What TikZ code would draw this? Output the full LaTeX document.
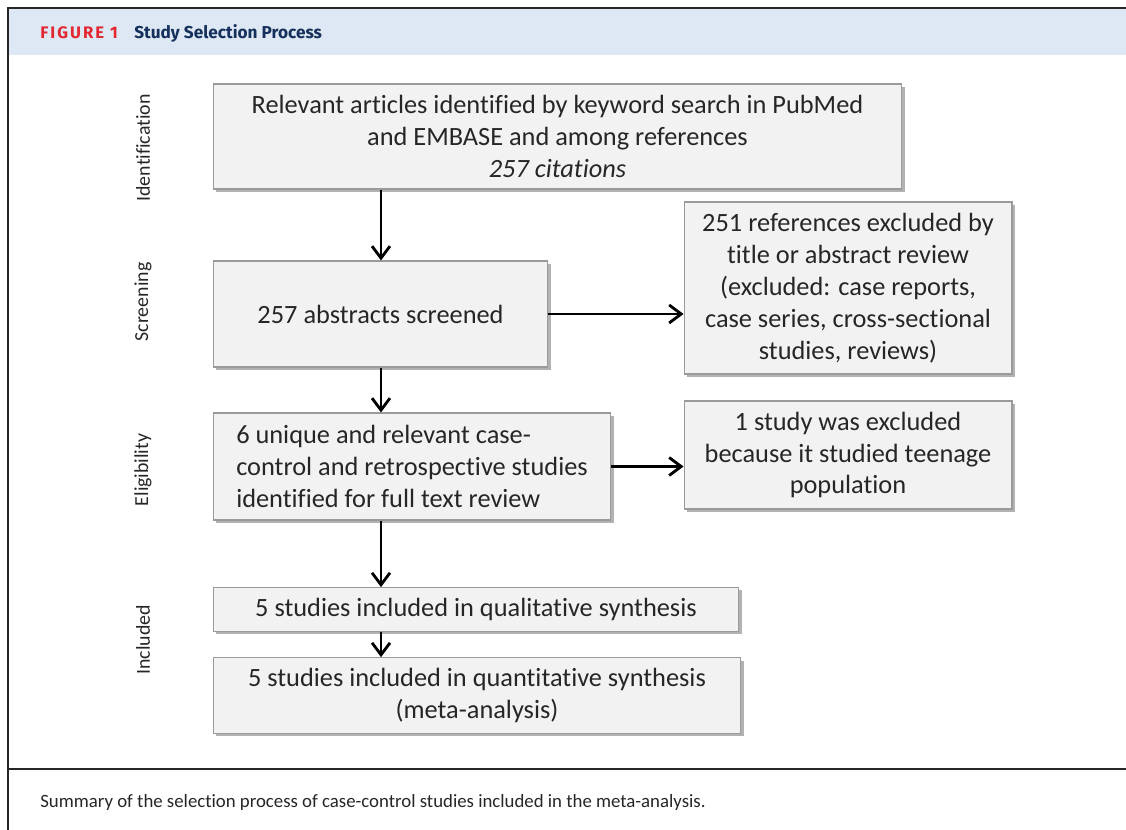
\documentclass[tikz,border=0pt]{standalone}
\usepackage{fontspec}
\setmainfont{Carlito}[RawFeature=-liga]
\newfontfamily\headfont{Fira Sans}
\newfontfamily\figfont[LetterSpace=12]{Fira Sans}
\usetikzlibrary{positioning, arrows.meta, shadows}
\definecolor{figred}{HTML}{E3262F}
\definecolor{navy}{HTML}{15305C}
\definecolor{bandblue}{HTML}{DEE8F4}
\definecolor{boxfill}{HTML}{F2F2F2}
\definecolor{boxedge}{HTML}{9A9A9A}
\tikzset{
  stagebox/.style = {rectangle, draw=boxedge, fill=boxfill, line width=0.6pt, align=center,
                     inner sep=6pt, font=\fontsize{15}{18.2}\selectfont, text=black!85,
                     drop shadow={shadow xshift=1.6pt, shadow yshift=-1.6pt, fill=black!55, opacity=.55}},
  phase/.style    = {rotate=90, font=\fontsize{11.3}{13}\selectfont, text=black!85},
  arr/.style      = {line width=1.6pt, -{Straight Barb[length=2.4mm, width=3.6mm]}},
  frame/.style    = {line width=1.2pt, draw=black!85},
}

\begin{document}
\begin{tikzpicture}[x=0.02cm, y=-0.02cm]
\useasboundingbox (0,0) rectangle (1126,830);

% =============== FRAME AND HEADER ===============
\fill[bandblue] (8,8) rectangle (1126,55);
\draw[frame] (1126,8) -- (8,8) -- (8,830);
\draw[frame] (8,769) -- (1126,769);
\node (fig) [anchor=west, inner sep=0pt, font=\figfont\fontsize{9.5}{11}\selectfont\bfseries, text=figred]
  at (40,33) {FIGURE 1};
\node (title) [right=9pt of fig, inner sep=0pt, font=\headfont\fontsize{9.8}{12}\selectfont\bfseries, text=navy]
  {Study Selection Process};

% =============== PHASE LABELS ===============
\node (pid) [phase] at (143,148) {Identification};
\node (psc) [phase] at (143,302) {Screening};
\node (pel) [phase] at (143,470) {Eligibility};
\node (pin) [phase] at (143,640) {Included};

% =============== MAIN COLUMN ===============
\node (search) [stagebox, minimum width=13.78cm, minimum height=2.1cm] at (557.5,136.5)
  {Relevant articles identified by keyword search in PubMed\\and EMBASE and among references\\\textit{257 citations}};
\node (screen) [stagebox, minimum width=6.7cm, minimum height=2.12cm] at (380.5,314)
  {257 abstracts screened};
\node (full) [stagebox, minimum width=7.96cm, minimum height=2.14cm, align=left] at (412,466.5)
  {6 unique and relevant case-\\control and retrospective studies\\identified for full text review};
\node (qual) [stagebox, minimum width=10.52cm, minimum height=0.86cm] at (476,609.5)
  {5 studies included in qualitative synthesis};
\node (quant) [stagebox, minimum width=10.56cm, minimum height=1.5cm] at (477,695.5)
  {5 studies included in quantitative synthesis\\(meta-analysis)};

% =============== EXCLUSIONS ===============
\node (excl1) [stagebox, minimum width=6.56cm, minimum height=3.44cm] at (848,288)
  {251 references excluded by\\title or abstract review\\(excluded: case reports,\\case series, cross-sectional\\studies, reviews)};
\node (excl2) [stagebox, minimum width=6.56cm, minimum height=2.16cm] at (848,455)
  {1 study was excluded\\because it studied teenage\\population};

% =============== ARROWS ===============
\coordinate (spine) at (381,0);
\draw[arr] (spine |- search.south) -- (spine |- screen.north);
\draw[arr] (spine |- screen.south) -- (spine |- full.north);
\draw[arr] (spine |- full.south) -- (spine |- qual.north);
\draw[arr] (spine |- qual.south) -- (spine |- quant.north);
\draw[arr] (screen.east) -- (excl1.west |- screen.east);
\draw[arr] (full.east) -- (excl2.west |- full.east);

% =============== CAPTION ===============
\node (cap) [anchor=west, inner sep=0pt, font=\fontsize{10.7}{12}\selectfont, text=black!85] at (40,802)
  {Summary of the selection process of case-control studies included in the meta-analysis.};

\end{tikzpicture}
\end{document}
